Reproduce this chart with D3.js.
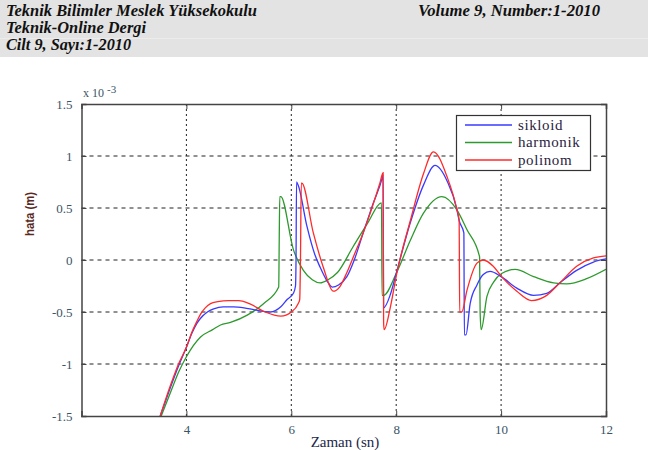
<!DOCTYPE html>
<html><head><meta charset="utf-8">
<script src="https://cdn.jsdelivr.net/npm/d3@7"></script>
<style>body{margin:0;background:#fff}svg{display:block}</style>
</head><body>
<script>
// ---- data ----
const headerLeft = ["Teknik Bilimler Meslek Yüksekokulu", "Teknik-Online Dergi", "Cilt 9, Sayı:1-2010"];
const headerRight = "Volume 9, Number:1-2010";
const seriesNames = ["sikloid", "harmonik", "polinom"];
const seriesColors = ["#3a3aff", "#2e9a2e", "#ff2a2a"];
const xTicks = [4, 6, 8, 10, 12];
const yTicks = [1.5, 1, 0.5, 0, -0.5, -1, -1.5];
const yTickLabels = ["1.5", "1", "0.5", "0", "-0.5", "-1", "-1.5"];
const xLabel = "Zaman (sn)";
const yLabel = "hata (m)";

const sikloidT = [3.50,3.70,3.85,4.00,4.10,4.20,4.27,4.40,4.52,4.70,4.90,5.10,5.30,5.60,5.80,5.92,6.04,6.08,6.09,6.10,6.13,6.30,6.45,6.55,6.68,6.78,6.90,7.06,7.20,7.37,7.55,7.74,7.75,7.76,7.89,8.00,8.27,8.52,8.74,8.97,9.16,9.20,9.29,9.30,9.33,9.41,9.54,9.66,9.79,10.00,10.30,10.62,10.87,11.12,11.44,11.76,12.00];
const sikloidV = [-1.50,-1.22,-1.02,-0.84,-0.71,-0.61,-0.56,-0.50,-0.47,-0.45,-0.45,-0.46,-0.48,-0.50,-0.45,-0.38,-0.32,-0.25,0.00,0.75,0.72,0.32,0.05,-0.07,-0.20,-0.26,-0.24,-0.16,0.00,0.26,0.53,0.80,0.82,-0.46,-0.33,-0.13,0.36,0.72,0.91,0.76,0.48,0.38,0.26,-0.72,-0.72,-0.42,-0.24,-0.14,-0.11,-0.16,-0.27,-0.34,-0.32,-0.22,-0.10,-0.02,0.01];

const harmonikT = [3.52,3.70,3.85,4.00,4.27,4.50,4.65,4.84,5.16,5.47,5.76,5.77,5.78,5.80,6.04,6.23,6.40,6.55,6.70,6.88,7.18,7.45,7.72,7.73,7.76,8.00,8.27,8.52,8.87,9.16,9.35,9.59,9.60,9.62,9.73,9.86,10.01,10.27,10.62,11.00,11.25,11.63,12.00];
const harmonikV = [-1.50,-1.27,-1.08,-0.93,-0.74,-0.67,-0.625,-0.60,-0.53,-0.42,-0.26,0.20,0.61,0.61,0.10,-0.10,-0.19,-0.22,-0.19,-0.12,0.13,0.35,0.55,-0.34,-0.34,-0.13,0.19,0.45,0.61,0.48,0.29,0.03,-0.50,-0.67,-0.35,-0.21,-0.13,-0.09,-0.16,-0.22,-0.23,-0.18,-0.09];

const polinomT = [3.50,3.70,3.85,4.00,4.10,4.20,4.27,4.36,4.46,4.60,4.80,5.00,5.20,5.50,5.80,6.00,6.13,6.16,6.175,6.19,6.20,6.42,6.61,6.80,6.92,7.06,7.20,7.37,7.55,7.69,7.75,7.76,7.77,7.89,8.01,8.27,8.52,8.71,8.97,9.16,9.20,9.21,9.25,9.35,9.54,9.66,9.85,10.01,10.30,10.58,10.87,11.12,11.44,11.76,12.00];
const polinomV = [-1.50,-1.20,-1.00,-0.84,-0.70,-0.59,-0.52,-0.46,-0.42,-0.40,-0.39,-0.39,-0.42,-0.50,-0.54,-0.50,-0.42,-0.38,0.00,0.74,0.74,0.26,-0.07,-0.30,-0.26,-0.12,0.05,0.26,0.52,0.74,0.84,-0.60,-0.67,-0.45,-0.13,0.38,0.83,1.04,0.80,0.48,0.38,-0.50,-0.50,-0.29,-0.03,0.00,-0.06,-0.16,-0.30,-0.39,-0.34,-0.22,-0.06,0.02,0.04];

// ---- layout ----
const W = 671, H = 450;
const svg = d3.select("body").append("svg").attr("width", W).attr("height", H);

// header band
svg.append("rect").attr("x",0).attr("y",0).attr("width",648).attr("height",57).attr("fill","#e3e3e3");
svg.append("line").attr("x1",0).attr("x2",648).attr("y1",38.5).attr("y2",38.5).attr("stroke","#ececec");
const hfont = "Liberation Serif, Times New Roman, serif";
const hLens = [251, 140, 125];
headerLeft.forEach((s,i)=>{
  svg.append("text").attr("x",6).attr("y",16+i*17).text(s)
    .style("font-family",hfont).attr("font-weight","bold").attr("font-style","italic")
    .attr("font-size",16).attr("fill","#111")
    .attr("textLength",hLens[i]).attr("lengthAdjust","spacingAndGlyphs");
});
svg.append("text").attr("x",418).attr("y",16).text(headerRight)
  .style("font-family",hfont).attr("font-weight","bold").attr("font-style","italic")
  .attr("font-size",16).attr("fill","#111")
  .attr("textLength",182).attr("lengthAdjust","spacingAndGlyphs");

// plot
const L = 81.5, R = 606, T = 104, B = 416;
const x = d3.scaleLinear().domain([2,12]).range([L,R]);
const y = d3.scaleLinear().domain([-1.5,1.5]).range([B,T]);
const tickColor = "#3a5566";
const serif = "Liberation Serif, Times New Roman, serif";

const g = svg.append("g");
// grid
g.selectAll(".vg").data(xTicks.filter(v=>v<12)).enter().append("line")
  .attr("x1",d=>x(d)).attr("x2",d=>x(d)).attr("y1",T).attr("y2",B)
  .attr("stroke","#222").attr("stroke-width",1).attr("stroke-dasharray","2,3");
g.selectAll(".hg").data(yTicks.filter(v=>Math.abs(v)<1.5)).enter().append("line")
  .attr("x1",L).attr("x2",R).attr("y1",d=>y(d)).attr("y2",d=>y(d))
  .attr("stroke","#222").attr("stroke-width",1).attr("stroke-dasharray","4,4");

// curves
svg.append("clipPath").attr("id","clip").append("rect").attr("x",L).attr("y",T).attr("width",R-L).attr("height",B-T);
const line = d3.line().x(d=>x(d[0])).y(d=>y(d[1])).curve(d3.curveMonotoneX);
const series = [
  [sikloidT, sikloidV],
  [harmonikT, harmonikV],
  [polinomT, polinomV]
];
const drawOrder = [1,0,2];
drawOrder.forEach(i=>{
  const pts = series[i][0].map((t,k)=>[t, series[i][1][k]]);
  svg.append("path").attr("d", line(pts)).attr("fill","none")
    .attr("stroke", seriesColors[i]).attr("stroke-width",1.3).attr("clip-path","url(#clip)");
});

// axes frame
const axB = d3.axisBottom(x).tickValues(xTicks).tickSize(-5).tickPadding(9).tickFormat(d3.format("d"));
const axT = d3.axisTop(x).tickValues(xTicks).tickSize(-5).tickFormat("");
const axL = d3.axisLeft(y).tickValues(yTicks).tickSize(-5).tickPadding(9).tickFormat((d,i)=>yTickLabels[i]);
const axR = d3.axisRight(y).tickValues(yTicks).tickSize(-5).tickFormat("");
[[axB,`translate(0,${B})`],[axT,`translate(0,${T})`],[axL,`translate(${L},0)`],[axR,`translate(${R},0)`]].forEach(([a,tr])=>{
  const ag = svg.append("g").attr("transform",tr).call(a).attr("font-family",serif);
  ag.select(".domain").attr("stroke","#444").attr("stroke-width",1.5);
  ag.selectAll(".tick line").attr("stroke","#444");
  ag.selectAll("text").style("font-family",serif).attr("font-size",13).attr("fill",tickColor);
});

// exponent label
const ex = svg.append("text").attr("x",83).attr("y",97).style("font-family",serif).attr("font-size",12).attr("fill",tickColor);
ex.append("tspan").text("x 10");
ex.append("tspan").attr("dx",3).attr("dy",-4).attr("font-size",11).text("-3");

// axis labels
svg.append("text").attr("x",345).attr("y",447).attr("text-anchor","middle")
  .style("font-family",serif).attr("font-size",15).attr("fill","#22284a").text(xLabel);
svg.append("text").attr("transform","translate(34,214) rotate(-90)").attr("text-anchor","middle")
  .style("font-family","Liberation Sans, Arial, sans-serif").attr("font-weight","bold")
  .attr("font-size",12).attr("fill","#5a2a1e").attr("textLength",44).attr("lengthAdjust","spacingAndGlyphs").text(yLabel);

// legend
const lg = svg.append("g");
lg.append("rect").attr("x",456.5).attr("y",115.5).attr("width",134).attr("height",55)
  .attr("fill","#fff").attr("stroke","#333").attr("stroke-width",1.2);
seriesNames.forEach((n,i)=>{
  const yy = 125 + i*17.5;
  lg.append("line").attr("x1",465).attr("x2",512).attr("y1",yy).attr("y2",yy)
    .attr("stroke",seriesColors[i]).attr("stroke-width",1.5);
  lg.append("text").attr("x",518).attr("y",yy+4.5).text(n)
    .style("font-family",serif).attr("font-size",15).attr("fill","#2a2440")
    .attr("letter-spacing",0.6);
});
</script>
</body></html>
